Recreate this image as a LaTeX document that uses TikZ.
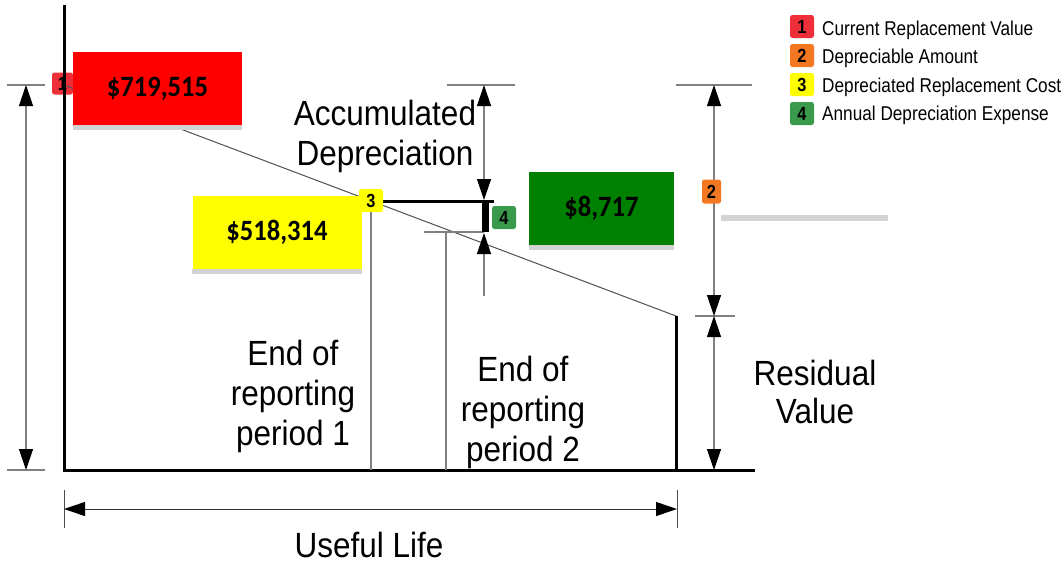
\documentclass[tikz,border=0pt]{standalone}
\usepackage{fontspec}
\setmainfont{Liberation Sans}[FakeStretch=0.9]
\newfontfamily\legfont{Liberation Sans}[FakeStretch=0.86]
\newfontfamily\valfont{Carlito}[FakeStretch=0.9]
\usetikzlibrary{arrows.meta}
\definecolor{mred}{HTML}{EE2F3A}
\definecolor{morange}{HTML}{F47721}
\definecolor{myellow}{HTML}{FFFF00}
\definecolor{mgreen}{HTML}{3A9A4C}
\definecolor{bred}{HTML}{FF0000}
\definecolor{bgreen}{HTML}{008000}
\definecolor{shadowgray}{HTML}{D3D3D3}
\definecolor{dimgray}{HTML}{808080}
\definecolor{slopegray}{HTML}{505050}
\begin{document}
\begin{tikzpicture}[x=1pt,y=-1pt,
  valbox/.style={minimum height=73pt, inner sep=0pt, font=\valfont\bfseries\fontsize{29.5}{32}\selectfont},
  marker/.style={rounded corners=2.5pt, inner sep=0pt, minimum width=24pt, minimum height=23pt, font=\legfont\bfseries\fontsize{19}{19}\selectfont},
  dimline/.style={draw=dimgray, line width=1.3pt},
  dimarrow/.style={dimline, {Triangle[color=black,width=14pt,length=21pt]}-{Triangle[color=black,width=14pt,length=21pt]}},
  uparrow/.style={dimline, -{Triangle[color=black,width=14pt,length=21pt]}},
  tickline/.style={draw=dimgray, line width=1.2pt},
  bigtext/.style={font=\fontsize{35}{40}\selectfont, align=center, inner sep=0pt},
  legtext/.style={font=\legfont\fontsize{20}{24}\selectfont, anchor=base west, inner sep=0pt}
]
\useasboundingbox (0,0) rectangle (1063,563);

% coordinates
\coordinate (ytop) at (64,5);
\coordinate (orig) at (64,470);
\coordinate (xend) at (755,470);
\coordinate (s0) at (64,85);
\coordinate (s1) at (676,316);
\coordinate (sb) at (676,470);

% marker 1 under the axis
\node[marker, fill=mred, minimum width=21pt, minimum height=22pt] (m1) at (62.5,83.5) {1};

% sloping line
\draw[slopegray, line width=1pt] (s0) -- (s1);

% axes
\draw[line width=3pt] (ytop) -- (orig) -- (xend);
\draw[line width=3pt] (s1) -- (sb);

% period lines
\coordinate (p1top) at (371,205);
\coordinate (p1bot) at (371,470);
\coordinate (p2top) at (446,232);
\coordinate (p2bot) at (446,470);
\draw[dimline] (p1top) -- (p1bot);
\draw[dimline] (p2top) -- (p2bot);
\coordinate (h2a) at (424,232);
\coordinate (h2b) at (484,232);
\draw[dimline] (h2a) -- (h2b);

% left dimension
\coordinate (lt1) at (7,85);  \coordinate (lt2) at (45,85);
\coordinate (lb1) at (7,470); \coordinate (lb2) at (45,470);
\coordinate (la) at (26,85);  \coordinate (lb) at (26,470);
\draw[tickline] (lt1) -- (lt2);
\draw[tickline] (lb1) -- (lb2);
\draw[dimarrow] (la) -- (lb);

% accumulated depreciation dimension
\coordinate (at1) at (447,85); \coordinate (at2) at (515,85);
\coordinate (aa) at (484,85);  \coordinate (ab) at (484,200);
\coordinate (ac) at (484,296); \coordinate (ad) at (484,233);
\draw[tickline] (at1) -- (at2);
\draw[dimarrow] (aa) -- (ab);
\draw[uparrow] (ac) -- (ad);

% thick lines
\coordinate (th1) at (380,201.5); \coordinate (th2) at (494,201.5);
\coordinate (tv1) at (485,201);   \coordinate (tv2) at (485,232);
\draw[line width=3.5pt] (th1) -- (th2);
\draw[line width=7pt] (tv1) -- (tv2);

% right dimension
\coordinate (rt1) at (676,85); \coordinate (rt2) at (752,85);
\coordinate (rm1) at (695,316); \coordinate (rm2) at (735,316);
\coordinate (ra) at (714,85); \coordinate (rb) at (714,316); \coordinate (rc) at (714,470);
\draw[tickline] (rt1) -- (rt2);
\draw[tickline] (rm1) -- (rm2);
\draw[dimarrow] (ra) -- (rb);
\draw[dimarrow] (rb) -- (rc);

% grey bar
\fill[shadowgray] (721,215) rectangle (888,221);

% useful life
\coordinate (u1a) at (64,490); \coordinate (u1b) at (64,528);
\coordinate (u2a) at (677,490); \coordinate (u2b) at (677,528);
\coordinate (ua) at (64,509); \coordinate (ub) at (677,509);
\draw[tickline, draw=black!70, line width=1pt] (u1a) -- (u1b);
\draw[tickline, draw=black!70, line width=1pt] (u2a) -- (u2b);
\draw[dimline, draw=black!80, line width=1pt, {Triangle[color=black,width=14pt,length=21pt]}-{Triangle[color=black,width=14pt,length=21pt]}] (ua) -- (ub);

% value boxes
\node[valbox, fill=bred, minimum width=169pt] (vred) at (157.5,88.5) {\$719,515};
\fill[shadowgray] (vred.south west) rectangle ([yshift=-5pt]vred.south east);
\node[valbox, fill=myellow, minimum width=169pt] (vyel) at (277,232) {\$518,314};
\fill[shadowgray] (vyel.south west) rectangle ([yshift=-5pt]vyel.south east);
\node[valbox, fill=bgreen, minimum width=145pt] (vgrn) at (601.5,208) {\$8,717};
\fill[shadowgray] (vgrn.south west) rectangle ([yshift=-5pt]vgrn.south east);

% markers
\node[marker, fill=myellow] (m3) at (371,200.5) {3};
\node[marker, fill=mgreen] (m4) at (504,217.5) {4};
\node[marker, fill=morange, minimum width=19pt, minimum height=24pt] (m2) at (711.5,191.5) {2};

% texts
\node[bigtext] (accum) at (385,136) {Accumulated\\Depreciation};
\node[bigtext] (per1) at (293,396.5) {End of\\reporting\\period 1};
\node[bigtext] (per2) at (523,412.5) {End of\\reporting\\period 2};
\node[bigtext, font=\fontsize{35}{38}\selectfont] (resid) at (815,392) {Residual\\Value};
\node[bigtext] (life) at (369,544.5) {Useful Life};

% legend
\node[marker, fill=mred] (l1) at (802,26.5) {1};
\node[marker, fill=morange] (l2) at (802,55.5) {2};
\node[marker, fill=myellow] (l3) at (802,84.5) {3};
\node[marker, fill=mgreen] (l4) at (802,113.5) {4};
\node[legtext] (t1) at (822,35) {Current Replacement Value};
\node[legtext] (t2) at (822,63.5) {Depreciable Amount};
\node[legtext] (t3) at (822,92) {Depreciated Replacement Cost};
\node[legtext] (t4) at (822,120.5) {Annual Depreciation Expense};
\end{tikzpicture}
\end{document}
